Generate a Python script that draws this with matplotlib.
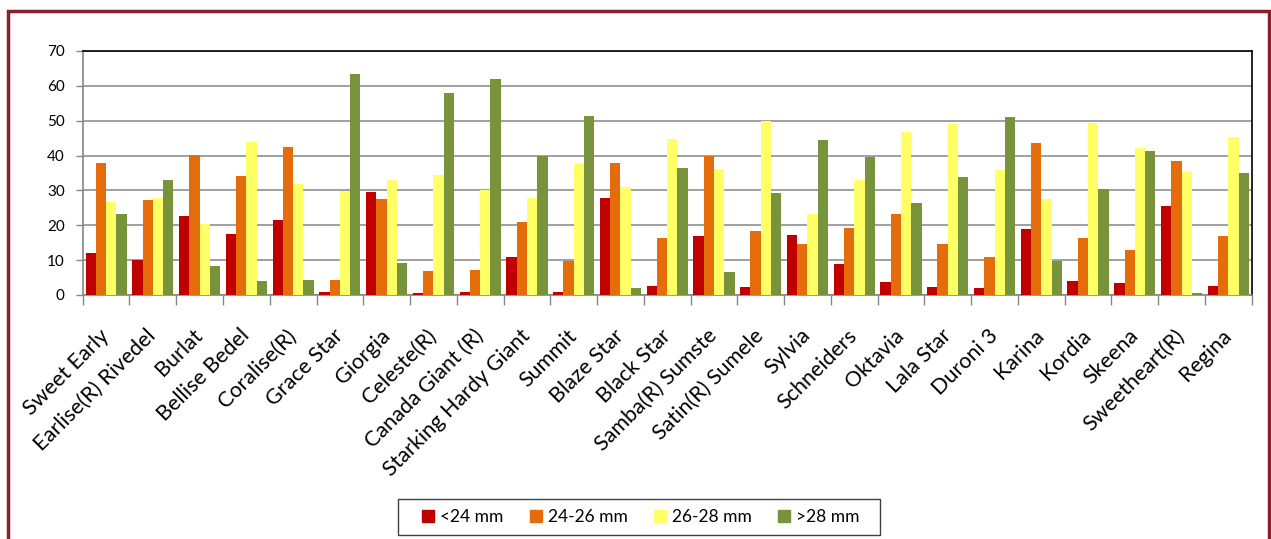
import numpy as np
import matplotlib
matplotlib.use("Agg")
import matplotlib.pyplot as plt
from matplotlib.patches import Rectangle, Patch

plt.rcParams['font.family'] = ['Lato', 'DejaVu Sans']

## DATA ##
varieties = ["Sweet Early", "Earlise(R) Rivedel", "Burlat", "Bellise Bedel", "Coralise(R)",
             "Grace Star", "Giorgia", "Celeste(R)", "Canada Giant (R)", "Starking Hardy Giant",
             "Summit", "Blaze Star", "Black Star", "Samba(R) Sumste", "Satin(R) Sumele",
             "Sylvia", "Schneiders", "Oktavia", "Lala Star", "Duroni 3",
             "Karina", "Kordia", "Skeena", "Sweetheart(R)", "Regina"]

lt24 = [12.0, 10.1, 22.7, 17.5, 21.5, 1.0, 29.6, 0.5, 0.9, 10.9,
        1.0, 27.9, 2.6, 16.9, 2.3, 17.3, 8.8, 3.6, 2.3, 2.0,
        18.9, 3.9, 3.3, 25.4, 2.6]
s24_26 = [38.0, 27.3, 40.2, 34.1, 42.4, 4.3, 27.4, 6.9, 7.2, 20.9,
          9.7, 37.9, 16.3, 40.0, 18.4, 14.6, 19.1, 23.3, 14.6, 10.9,
          43.6, 16.3, 13.0, 38.4, 16.9]
s26_28 = [26.7, 27.7, 20.4, 43.9, 31.8, 29.8, 33.1, 34.3, 30.0, 27.9,
          37.8, 30.9, 44.7, 36.2, 49.9, 23.2, 33.0, 46.7, 49.0, 35.9,
          27.5, 49.2, 42.3, 35.5, 45.3]
gt28 = [23.3, 33.0, 8.4, 4.0, 4.3, 63.5, 9.3, 57.9, 62.0, 40.0,
        51.4, 2.0, 36.3, 6.6, 29.3, 44.5, 39.5, 26.3, 33.9, 51.0,
        9.7, 30.3, 41.3, 0.5, 34.9]

series = [lt24, s24_26, s26_28, gt28]
names = ["<24 mm", "24-26 mm", "26-28 mm", ">28 mm"]
colors = ["#C00000", "#E46C0A", "#FFFF66", "#77933C"]

W, H = 1271, 539

## FIGURE ##
fig = plt.figure(figsize=(W / 100, H / 100), dpi=100)
ax = fig.add_axes([0.0651, 0.4527, 0.9197, 0.4527])

x = np.arange(len(varieties))
w = 0.22
for i, (vals, c) in enumerate(zip(series, colors)):
    ax.bar(x + (i - 1.5) * w, vals, width=w, color=c, zorder=3)

ax.set_xlim(-0.5, len(varieties) - 0.5)
ax.set_ylim(0, 70)
ax.set_yticks(range(0, 71, 10))
ax.yaxis.grid(True, color="#A0A0A0", linewidth=1.4, zorder=0)
ax.tick_params(axis='y', length=5, width=1, color="#868686", labelsize=11, pad=8)

ax.set_xticks(x)
ax.set_xticklabels(varieties, rotation=45, ha='right', va='center',
                   rotation_mode='anchor', fontsize=15.5)
ax.tick_params(axis='x', which='major', length=0, pad=27)
ax.set_xticks(np.arange(-0.5, len(varieties), 1), minor=True)
ax.tick_params(axis='x', which='minor', length=7, width=1, color="#868686")

for s in ['left', 'bottom']:
    ax.spines[s].set_color("#868686")
    ax.spines[s].set_linewidth(1.2)
for s in ['top', 'right']:
    ax.spines[s].set_color("black")
    ax.spines[s].set_linewidth(1.2)

## LEGEND ##
fig.patches.append(Rectangle((398 / W, 1 - 535 / H), (880 - 398) / W, 36 / H,
                             transform=fig.transFigure, fill=True, facecolor="white",
                             edgecolor="#404040", linewidth=1.0))
handles = [Patch(color=c, label=n) for c, n in zip(colors, names)]
leg = fig.legend(handles=handles, loc='center', bbox_to_anchor=(641 / W, 1 - 517 / H),
                 ncol=4, fontsize=12.5, frameon=False,
                 handlelength=0.7, handleheight=0.7, columnspacing=1.5,
                 handletextpad=0.35, borderpad=0.0)

## OUTER FRAME ##
fig.patches.append(Rectangle((8 / W, -0.05), (1269 - 8) / W, 1.05 - 11 / H,
                             transform=fig.transFigure, fill=False,
                             edgecolor="#8B1E2B", linewidth=2.5))

fig.savefig("out.png", dpi=100)
